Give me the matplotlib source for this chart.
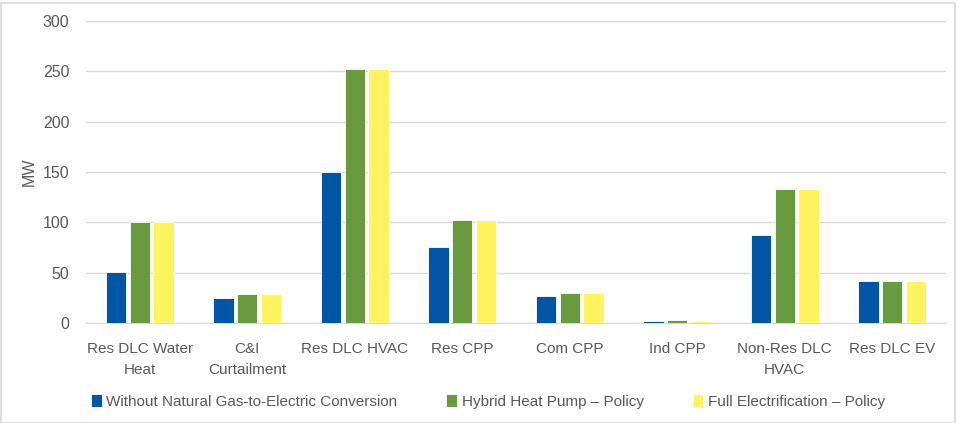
import numpy as np
import matplotlib
matplotlib.use('Agg')
import matplotlib.pyplot as plt
from matplotlib.patches import Rectangle

plt.rcParams['font.family'] = ['Liberation Sans Narrow', 'Liberation Sans', 'DejaVu Sans']

# --- data ---
categories = ['Res DLC Water\nHeat', 'C&I\nCurtailment', 'Res DLC HVAC', 'Res CPP',
              'Com CPP', 'Ind CPP', 'Non-Res DLC\nHVAC', 'Res DLC EV']
without_conversion = [51, 25, 150, 75, 27, 2, 87, 42]
hybrid_heat_pump = [100, 29, 252, 102, 30, 3, 133, 42]
full_electrification = [100, 29, 252, 102, 30, 2, 133, 42]

series_names = ['Without Natural Gas-to-Electric Conversion',
                'Hybrid Heat Pump \u2013 Policy',
                'Full Electrification \u2013 Policy']
colors = ['#0055A5', '#6A9A3F', '#FFF35F']
text_color = '#595959'

fig = plt.figure(figsize=(9.59, 4.23), dpi=100)
ax = fig.add_axes([0.0897, 0.2364, 0.8967, 0.714])

x = np.arange(len(categories))
w = 0.19
step = 0.222
for i, (vals, name, c) in enumerate(zip([without_conversion, hybrid_heat_pump, full_electrification],
                                        series_names, colors)):
    ax.bar(x + (i - 1) * step, vals, width=w, color=c, label=name,
           edgecolor='white', linewidth=0.6, zorder=3)

ax.set_xlim(-0.5, len(categories) - 0.5)
ax.set_ylim(0, 300)
ax.set_yticks(range(0, 301, 50))
ax.grid(axis='y', color='#D9D9D9', linewidth=1, zorder=0)
for s in ['top', 'right', 'left']:
    ax.spines[s].set_visible(False)
ax.spines['bottom'].set_color('#D9D9D9')
ax.tick_params(axis='both', length=0, colors=text_color, labelsize=11)
ax.tick_params(axis='y', labelsize=11.5)
ax.tick_params(axis='x', pad=14)
ax.tick_params(axis='y', pad=12)
ax.set_xticks(x)
ax.set_xticklabels(categories, color=text_color, linespacing=1.6)
ax.set_ylabel('MW', color=text_color, fontsize=11.5)
ax.yaxis.set_label_coords(-0.057, 0.5)

ax.legend(loc='lower left', bbox_to_anchor=(-0.01, -0.33), ncol=3, frameon=False,
          fontsize=11, handlelength=0.7, handleheight=0.9, handletextpad=0.3,
          columnspacing=3.2, labelcolor=text_color)

fig.patches.append(Rectangle((0.001, 0.0), 0.995, 0.993, transform=fig.transFigure,
                             fill=False, edgecolor='#D9D9D9', linewidth=1.2))

fig.savefig('out.png', dpi=100)
